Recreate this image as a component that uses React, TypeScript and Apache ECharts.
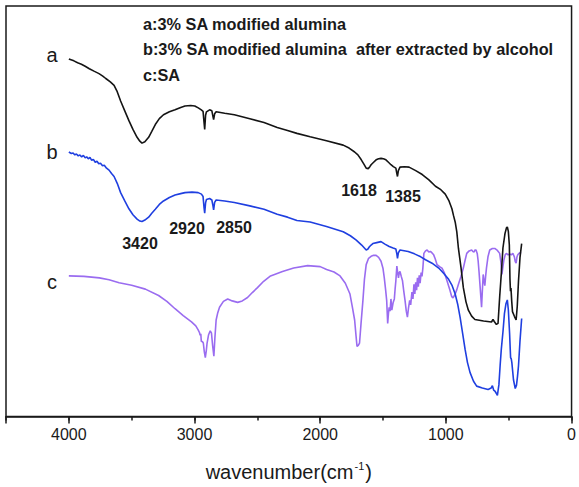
import React, { useEffect, useRef } from "react";
import * as echarts from "echarts";

// wavenumber (cm-1), transmittance (arbitrary, offset) pairs
const curveA: [number, number][] = [
  [4000, 73], [3960, 72.6], [3930, 72.2], [3900, 71.9], [3870, 71.5], [3837, 71], [3800, 70.5],
  [3760, 70], [3730, 69.5], [3706, 69], [3670, 68.3], [3640, 67.6], [3615, 66.3], [3588, 64.4],
  [3555, 62.4], [3522, 60.4], [3490, 58.6], [3457, 57], [3435, 56.2], [3418, 55.8], [3395, 56.1],
  [3365, 57], [3340, 58.2], [3312, 59.6], [3280, 60.8], [3247, 61.6], [3200, 62.2], [3155, 62.6],
  [3110, 63.1], [3076, 63.4], [3030, 63.5], [2998, 63.4], [2970, 63], [2946, 62.6], [2932, 62.3],
  [2924, 60], [2919, 58.6], [2912, 61.5], [2905, 62.2], [2880, 62.6], [2862, 62.4], [2853, 61.2],
  [2848, 60.6], [2840, 61.8], [2828, 62.2], [2760, 61.9], [2683, 61.6], [2560, 60.8], [2447, 60],
  [2342, 59], [2260, 58.4], [2185, 57.8], [2080, 57.1], [1950, 56.3], [1817, 55.4], [1770, 54.8],
  [1726, 54], [1700, 53.4], [1673, 52.4], [1650, 51.4], [1634, 50.7], [1618, 50.6], [1605, 51],
  [1595, 51.4], [1575, 51.9], [1555, 52.4], [1535, 52.6], [1516, 52.7], [1497, 52.6], [1477, 52.4],
  [1457, 51.9], [1437, 51.4], [1418, 51], [1398, 50.7], [1390, 49.6], [1385, 49], [1378, 50.2],
  [1365, 50.9], [1330, 51], [1293, 50.9], [1240, 50.2], [1188, 49.4], [1135, 48.3], [1083, 47],
  [1040, 46.3], [1005, 45.4], [975, 44], [952, 42.4], [939, 41], [925, 39.6], [913, 37.7],
  [900, 34.3], [880, 30.5], [861, 26.3], [840, 23.4], [821, 21.7], [795, 20.5], [769, 19.8],
  [700, 19.5], [637, 19.3], [625, 19.8], [615, 19.4], [598, 18.8], [585, 19], [572, 24.4],
  [558, 29.5], [546, 34.4], [530, 37.3], [518, 38.5], [511, 38.7], [503, 37.8], [495, 35],
  [490, 28], [486, 25.6], [482, 26.2], [476, 23.5], [470, 21.4], [454, 20.4], [441, 19.7],
  [432, 22.5], [422, 27.7], [410, 32.5], [397, 35.3],
];

const curveB: [number, number][] = [
  [4000, 54], [3980, 53.7], [3966, 53.8], [3952, 53.4], [3940, 53.6], [3925, 53.2], [3912, 53.4],
  [3898, 53.0], [3884, 53.3], [3870, 52.8], [3858, 53.0], [3845, 52.6], [3832, 52.9], [3818, 52.3],
  [3805, 52.5], [3790, 51.9], [3776, 52.1], [3762, 51.6], [3748, 51.7], [3732, 51.2], [3718, 51.3],
  [3700, 50.7], [3680, 50.3], [3660, 49.6], [3640, 49],
  [3615, 47.6], [3588, 45.7], [3555, 44], [3522, 42.4], [3490, 41.2], [3457, 40.3], [3435, 39.9],
  [3418, 39.8], [3395, 40.1], [3365, 40.7], [3340, 41.5], [3312, 42.3], [3280, 43.3], [3247, 44],
  [3200, 44.7], [3155, 45.2], [3110, 45.5], [3076, 45.7], [3020, 45.8], [2971, 45.7], [2945, 45.4],
  [2932, 44.9], [2924, 42.6], [2919, 41.5], [2912, 43.6], [2905, 44.3], [2880, 44.5], [2862, 44.2],
  [2853, 43], [2848, 42.2], [2840, 43.7], [2828, 44.2], [2760, 44], [2683, 43.7], [2560, 43],
  [2447, 42.3], [2342, 41.3], [2260, 40.7], [2185, 40], [2080, 39.7], [1950, 38.8], [1817, 37.7],
  [1760, 36.9], [1713, 36], [1670, 35], [1634, 34], [1620, 34.2], [1610, 34.6], [1595, 35],
  [1581, 35.3], [1550, 35.5], [1516, 35.7], [1485, 35.2], [1451, 34.7], [1420, 34.4], [1398, 34.2],
  [1390, 33.2], [1385, 32.3], [1378, 33.4], [1365, 34], [1300, 33.7], [1250, 33.2], [1200, 32.6],
  [1162, 32], [1110, 31.3], [1057, 30.3], [1020, 29.3], [978, 28], [950, 26.7], [926, 25],
  [905, 22.8], [887, 20.3], [867, 17], [847, 13.7], [828, 11], [808, 9], [780, 7.2], [755, 6.2],
  [710, 5.8], [664, 5.5], [640, 5.8], [630, 6.3], [620, 5.4], [610, 5.2], [598, 4.7], [590, 4.3],
  [578, 6.5], [568, 10.5], [559, 13.7], [545, 17.5], [534, 21], [522, 23], [511, 23.8], [503, 21.8],
  [493, 17], [488, 13.8], [485, 12], [480, 11.8], [475, 11], [462, 7.5], [448, 5.7], [438, 6.4],
  [430, 8.2], [422, 10.4], [410, 15.5], [397, 20],
];

const curveC: [number, number][] = [
  [4000, 28.7], [3880, 28.6], [3757, 28.3], [3680, 27.9], [3600, 27.3], [3500, 26.8], [3391, 26],
  [3286, 24.7], [3220, 23.5], [3155, 22], [3090, 20.6], [3024, 19.3], [2990, 18.5], [2971, 17.7],
  [2960, 17.1], [2955, 16.6], [2950, 16.9], [2946, 15.3], [2938, 15.3], [2930, 15], [2922, 13.2],
  [2914, 12], [2906, 13.5], [2900, 15], [2888, 16.7], [2875, 17.5], [2865, 17], [2856, 14.5],
  [2846, 12.3], [2838, 16], [2828, 19.7], [2815, 21.2], [2801, 22.3], [2770, 23.5], [2736, 24],
  [2700, 23.6], [2657, 23.3], [2620, 23.6], [2578, 24.3], [2540, 25.3], [2499, 26.3], [2450, 27.6],
  [2395, 28.7], [2300, 29.6], [2211, 30.3], [2100, 30.8], [2000, 30.6], [1949, 30], [1890, 29.5],
  [1842, 28.7], [1800, 27.2], [1763, 25], [1745, 22.5], [1726, 19.7], [1715, 16.5], [1707, 14.3],
  [1697, 14.5], [1687, 15], [1675, 19], [1660, 23.7], [1648, 28], [1634, 31], [1615, 32.3],
  [1595, 32.7], [1575, 32.9], [1555, 32.9], [1535, 32.5], [1516, 31.7], [1500, 30.2], [1490, 28.3],
  [1480, 26], [1471, 23.7], [1463, 19], [1457, 21], [1451, 22.3], [1444, 21.5], [1437, 24],
  [1430, 21.7], [1420, 23.2], [1410, 24], [1404, 26], [1398, 27.7], [1390, 30.7], [1383, 29.2],
  [1377, 28.3], [1371, 29.4], [1365, 29.6], [1355, 28.6], [1345, 27.7], [1335, 25.6], [1325, 23.7],
  [1315, 21.5], [1306, 20.3], [1298, 22], [1288, 23.7], [1280, 22.8], [1270, 25.4], [1262, 24],
  [1254, 27], [1247, 25], [1240, 27.4], [1233, 25.8], [1226, 28.3], [1219, 26.5], [1212, 28.8],
  [1205, 27.2], [1197, 29.4], [1190, 28.6], [1183, 30.3], [1175, 33.3], [1162, 33.8], [1149, 34],
  [1136, 33.6], [1123, 33.7], [1110, 33.4], [1097, 33], [1085, 32.2], [1070, 31], [1050, 30.6],
  [1031, 30.3], [1010, 29.2], [991, 27.7], [970, 26], [955, 24.6], [946, 24.2], [936, 24.5],
  [926, 25], [913, 25.9], [900, 27], [880, 28.6], [861, 30.3], [848, 31.8], [834, 33.3], [815, 33.8],
  [795, 34], [785, 33.7], [775, 33.6], [768, 34], [760, 34], [750, 33.2], [743, 31.7], [736, 29.5],
  [729, 27], [722, 24.5], [716, 22.3], [710, 25.5], [703, 29], [697, 27.8], [690, 26.7], [684, 28.5],
  [677, 30.3], [665, 32.6], [651, 34], [630, 34.3], [611, 34.3], [590, 33.9], [572, 33.3], [562, 31.5],
  [554, 29], [546, 30.6], [538, 32], [528, 33], [519, 33.3], [505, 33], [493, 33.2], [480, 33],
  [467, 33.3], [455, 32.6], [448, 31.6], [441, 31.3], [435, 32.5], [428, 33], [415, 33.4], [401, 33.3],
];

const seriesNames = ["a", "b", "c"];
const seriesColors = ["#141414", "#1f3fe0", "#9a6cf0"];
const majorTicks = [0, 1000, 2000, 3000, 4000];

const legendLines = [
  "a:3% SA modified alumina",
  "b:3% SA modified alumina  after extracted by alcohol",
  "c:SA",
];

const peakLabels = ["3420", "2920", "2850", "1618", "1385"];

export default function App() {
  const ref = useRef<HTMLDivElement>(null);

  useEffect(() => {
    if (!ref.current) return;
    const chart = echarts.init(ref.current, undefined, { renderer: "svg" });
    const font = "Arial, 'Liberation Sans', Helvetica, sans-serif";
    const curves = [curveA, curveB, curveC];

    const legendPos = [25, 50, 76];
    const peakPos: [number, number][] = [
      [140, 243], [187, 228], [234, 227], [359, 190], [403, 196],
    ];
    const letterPos: [number, number][] = [
      [52, 55], [52, 152], [52, 282],
    ];

    chart.setOption({
      animation: false,
      backgroundColor: "#ffffff",
      grid: {
        left: 6,
        right: 1,
        top: 6,
        bottom: 62,
        show: true,
        borderColor: "#1a1a1a",
        borderWidth: 1.5,
        backgroundColor: "transparent",
      },
      xAxis: [
        {
          type: "value",
          min: 0,
          max: 4500,
          interval: 1000,
          inverse: true,
          splitLine: { show: false },
          axisLine: { show: true, lineStyle: { color: "#1a1a1a", width: 1.5 } },
          axisTick: { show: true, length: 7, lineStyle: { color: "#1a1a1a", width: 1.5 } },
          axisLabel: {
            show: true,
            margin: 10,
            fontSize: 16,
            fontFamily: font,
            color: "#1a1a1a",
            formatter: (v: number) => (majorTicks.includes(v) ? String(v) : ""),
          },
          name: "{t|wavenumber(cm}{s|-1}{t|)}",
          nameLocation: "middle",
          nameGap: 44,
          nameTextStyle: {
            rich: {
              t: { fontSize: 20, fontFamily: font, color: "#1a1a1a" },
              s: { fontSize: 11, fontFamily: font, color: "#1a1a1a", padding: [0, 1, 12, 1] },
            },
          },
        },
        {
          type: "value",
          min: 0,
          max: 4500,
          interval: 500,
          inverse: true,
          position: "bottom",
          splitLine: { show: false },
          axisLine: { show: false },
          axisTick: { show: true, length: 4, lineStyle: { color: "#1a1a1a", width: 1.5 } },
          axisLabel: { show: false },
        },
      ],
      yAxis: {
        type: "value",
        min: 0,
        max: 83.8,
        show: false,
        splitLine: { show: false },
      },
      series: curves.map((c, i) => ({
        name: seriesNames[i],
        type: "line",
        xAxisIndex: 0,
        data: c,
        showSymbol: false,
        symbol: "none",
        lineStyle: { color: seriesColors[i], width: 1.6 },
        z: 3 - i,
      })),
      graphic: [
        ...legendLines.map((t, i) => ({
          type: "text",
          left: 143,
          top: legendPos[i] - 9,
          style: { text: t, fontSize: 16.3, fontWeight: "bold", fontFamily: font, fill: "#1a1a1a" },
        })),
        ...seriesNames.map((t, i) => ({
          type: "text",
          x: letterPos[i][0],
          y: letterPos[i][1],
          style: {
            text: t,
            fontSize: 20,
            fontFamily: font,
            fill: "#1a1a1a",
            align: "center",
            verticalAlign: "middle",
          },
        })),
        ...peakLabels.map((t, i) => ({
          type: "text",
          x: peakPos[i][0],
          y: peakPos[i][1],
          style: {
            text: t,
            fontSize: 16,
            fontWeight: "bold",
            fontFamily: font,
            fill: "#1a1a1a",
            align: "center",
            verticalAlign: "middle",
          },
        })),
      ],
    });
    return () => chart.dispose();
  }, []);

  return (
    <div
      ref={ref}
      style={{ position: "fixed", left: 0, top: 0, width: 579, height: 487, background: "#fff" }}
    />
  );
}
